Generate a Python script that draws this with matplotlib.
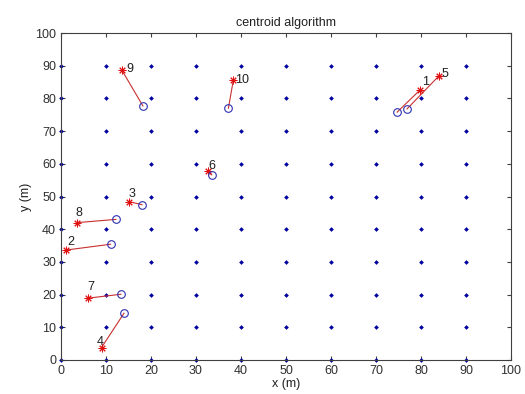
import numpy as np
import matplotlib
matplotlib.use("Agg")
import matplotlib.pyplot as plt

# anchor grid
anchor_x = list(range(0, 100, 10))
anchor_y = list(range(0, 100, 10))

# unknown nodes (true positions) and centroid estimates
node_ids = [1, 2, 3, 4, 5, 6, 7, 8, 9, 10]
true_x = [79.8, 1.0, 15.2, 9.0, 84.0, 32.7, 5.9, 3.5, 13.5, 38.3]
true_y = [82.6, 33.6, 48.4, 3.8, 86.9, 57.8, 18.9, 42.0, 88.7, 85.6]
est_x = [74.7, 11.0, 18.0, 14.0, 76.9, 33.5, 13.3, 12.2, 18.2, 37.2]
est_y = [75.8, 35.4, 47.5, 14.3, 76.8, 56.6, 20.1, 43.0, 77.7, 77.0]

# label offsets (pixels) relative to each star
label_dx = [1.5, 1.5, -0.5, -4.5, 2.5, 0.5, -0.5, -1.5, 4.5, 2]
label_dy = [8, 8, 8, 6, 2, 5, 11, 10, 1, 0]

ticks = list(range(0, 101, 10))

plt.rcParams['font.family'] = ['Liberation Sans', 'DejaVu Sans']
fig = plt.figure(figsize=(5.25, 3.94), dpi=100)
ax = fig.add_axes([61/525, 1-360/394, 450/525, 327/394])

gx, gy = np.meshgrid(anchor_x, anchor_y)
ax.plot(gx.ravel(), gy.ravel(), 'D', color='#0000a0', ms=2.4, mew=0, zorder=2, clip_on=False)

for i in range(len(node_ids)):
    ax.plot([true_x[i], est_x[i]], [true_y[i], est_y[i]], '-', color='#c83030', lw=0.8, zorder=3)
ax.plot(true_x, true_y, linestyle='none', marker=(8, 2, 0), color='#e01010', ms=5.5, mew=0.7, zorder=4)
ax.plot(est_x, est_y, linestyle='none', marker='o', mfc='none', mec='#3030b0', ms=5.5, mew=0.8, zorder=4)

for i, n in enumerate(node_ids):
    ax.annotate(str(n), (true_x[i], true_y[i]), xytext=(label_dx[i], label_dy[i]),
                textcoords='offset pixels', ha='left', va='center', fontsize=9, color='#202020', zorder=5)

ax.set_xlim(0, 100)
ax.set_ylim(0, 100)
ax.set_xticks(ticks)
ax.set_yticks(ticks)
ax.tick_params(direction='in', length=3, width=0.8, labelsize=9, colors='#404040', top=True, right=True,
               labelcolor='#303030')
for s in ax.spines.values():
    s.set_color('#404040')
    s.set_linewidth(0.8)
ax.set_title('centroid algorithm', fontsize=9, color='#202020', pad=5)
ax.set_xlabel('x (m)', fontsize=9, color='#202020', labelpad=1)
ax.set_ylabel('y (m)', fontsize=9, color='#202020', labelpad=2)

fig.savefig('out.png', dpi=100)
